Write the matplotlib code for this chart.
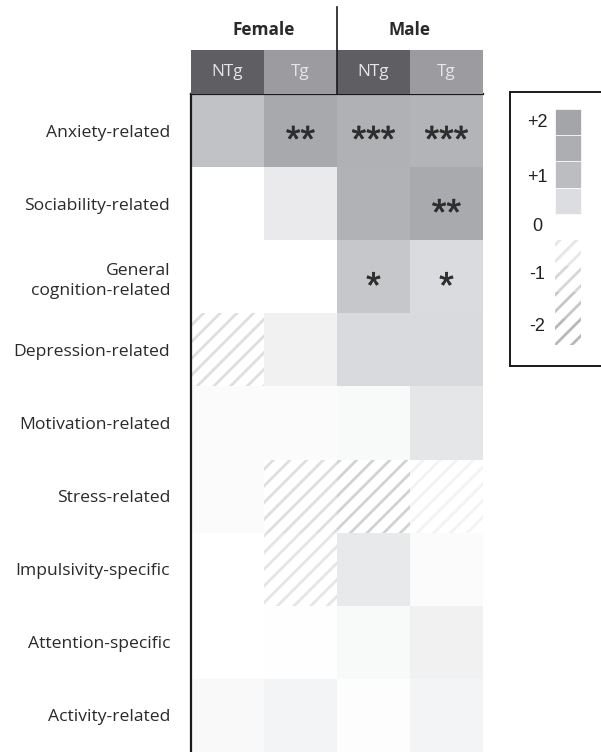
import numpy as np
import matplotlib
matplotlib.use("Agg")
import matplotlib.pyplot as plt
import matplotlib.patheffects as pe
from matplotlib.colors import LinearSegmentedColormap, Normalize
from matplotlib.patches import Rectangle

plt.rcParams["hatch.linewidth"] = 2.0

# ---- data -------------------------------------------------------------
behaviours = [
    "Anxiety-related",
    "Sociability-related",
    "General\ncognition-related",
    "Depression-related",
    "Motivation-related",
    "Stress-related",
    "Impulsivity-specific",
    "Attention-specific",
    "Activity-related",
]
sexes = ["Female", "Male"]
genotypes = ["NTg", "Tg", "NTg", "Tg"]

# scores per group (positive = shaded, negative = hatched)
female_ntg = [0.92, 0.00, 0.00, -0.76, 0.06, 0.07, 0.00, 0.00, 0.09]
female_tg = [1.78, 0.31, 0.00, 0.21, 0.06, -0.76, -0.55, 0.01, 0.17]
male_ntg = [1.41, 1.38, 0.85, 0.55, 0.10, -1.17, 0.33, 0.10, 0.03]
male_tg = [1.31, 1.72, 0.53, 0.55, 0.37, -0.10, 0.06, 0.21, 0.17]

stars_female_ntg = ["", "", "", "", "", "", "", "", ""]
stars_female_tg = ["**", "", "", "", "", "", "", "", ""]
stars_male_ntg = ["***", "", "*", "", "", "", "", "", ""]
stars_male_tg = ["***", "**", "*", "", "", "", "", "", ""]

legend_pos_steps = [2.0, 1.5, 1.0, 0.5]
legend_neg_steps = [-0.5, -1.0, -1.5, -2.0]
legend_labels = ["+2", "+1", "0", "-1", "-2"]

# ---- colour scales -----------------------------------------------------
pos_cmap = LinearSegmentedColormap.from_list(
    "pos", [(0.0, "#ffffff"), (0.25, "#dcdde0"), (0.5, "#bcbdc1"),
            (0.75, "#adaeb2"), (1.0, "#a4a5a9")])
neg_cmap = LinearSegmentedColormap.from_list("neg", ["#f6f6f6", "#b8b8b8"])
norm = Normalize(0, 2)

values = np.array([female_ntg, female_tg, male_ntg, male_tg]).T
stars = np.array([stars_female_ntg, stars_female_tg, stars_male_ntg, stars_male_tg]).T
n_rows, n_cols = values.shape

W, H = 601, 752
fig = plt.figure(figsize=(W / 100, H / 100), dpi=100)

label_font = "Open Sans"
text_col = "#2a2a2a"
star_col = "#2e2e2e"

# ---- heat map ----------------------------------------------------------
x0, x1, ytop = 191, 483, 94
ax = fig.add_axes([x0 / W, 0, (x1 - x0) / W, (H - ytop) / H])
pos_vals = np.ma.masked_less(values, 0)
ax.pcolormesh(np.arange(n_cols + 1), np.arange(n_rows + 1), pos_vals,
              cmap=pos_cmap, norm=norm, shading="flat")
for i in range(n_rows):
    for j in range(n_cols):
        v = values[i, j]
        if v < 0:
            ax.add_patch(Rectangle((j, i), 1, 1, facecolor="white",
                                   edgecolor=neg_cmap(norm(-v)), hatch="//",
                                   linewidth=0))
        if stars[i, j]:
            ax.text(j + 0.5, i + 0.79, stars[i, j], ha="center", va="baseline",
                    fontsize=27, family="Liberation Sans", color=star_col,
                    path_effects=[pe.withStroke(linewidth=0.4,
                                                foreground=star_col)])
ax.set_xlim(0, n_cols)
ax.set_ylim(n_rows, 0)
ax.set_xticks([])
ax.set_yticks(np.arange(n_rows) + 0.5)
ax.set_yticklabels(behaviours, fontsize=12.6, family=label_font,
                   color=text_col, ha="right", linespacing=1.38)
ax.tick_params(axis="y", length=0, pad=15)
for s in ("right", "bottom"):
    ax.spines[s].set_visible(False)
for s in ("left", "top"):
    ax.spines[s].set_linewidth(1.6)
    ax.spines[s].set_color("#1a1a1a")

# ---- column header -----------------------------------------------------
hb = 50
hax = fig.add_axes([x0 / W, 1 - ytop / H, (x1 - x0) / W, (ytop - hb) / H])
hax.set_xlim(0, n_cols)
hax.set_ylim(0, 1)
hax.axis("off")
head_colors = {"NTg": "#5f5f63", "Tg": "#9c9ca0"}
for j, g in enumerate(genotypes):
    hax.add_patch(Rectangle((j, 0), 1, 1, facecolor=head_colors[g], linewidth=0))
    hax.text(j + 0.5, 0.5, g, ha="center", va="center", fontsize=12.4,
             family=label_font, color="#e6e6e6")
for k, s in enumerate(sexes):
    hax.text(2 * k + 1, 1.45, s, ha="center", va="center", fontsize=12.4,
             family=label_font, fontweight="bold", color=text_col)
hax.plot([2, 2], [0, (ytop - 7) / (ytop - hb)], color="#1a1a1a", lw=1.2,
         clip_on=False)

# ---- legend ------------------------------------------------------------
lx0, ly0, ly1 = 510, 92, 366
slot = 26.2
first = 109
lax = fig.add_axes([lx0 / W, 1 - ly1 / H, 120 / W, (ly1 - ly0) / H])
lax.set_xlim(0, 120)
lax.set_ylim((ly1 - first) / slot, (ly0 - first) / slot)
lax.set_xticks([])
lax.set_yticks([])
for s in lax.spines.values():
    s.set_linewidth(1.4)
    s.set_color("#1a1a1a")
for k, v in enumerate(legend_pos_steps):
    lax.add_patch(Rectangle((45, k), 26, 1, facecolor=pos_cmap(norm(v)),
                            edgecolor="white", linewidth=0.5))
for k, v in enumerate(legend_neg_steps):
    lax.add_patch(Rectangle((45, 5 + k), 26, 1, facecolor="white",
                            edgecolor=neg_cmap(norm(-v)), hatch="//",
                            linewidth=0))
label_slots = [0.5, 2.6, 4.5, 6.3, 8.3]
for lab, y in zip(legend_labels, label_slots):
    lax.text(27, y, lab, ha="center", va="center", fontsize=13,
             family="Liberation Sans", color="#222222")

fig.savefig("out.png", dpi=100)
